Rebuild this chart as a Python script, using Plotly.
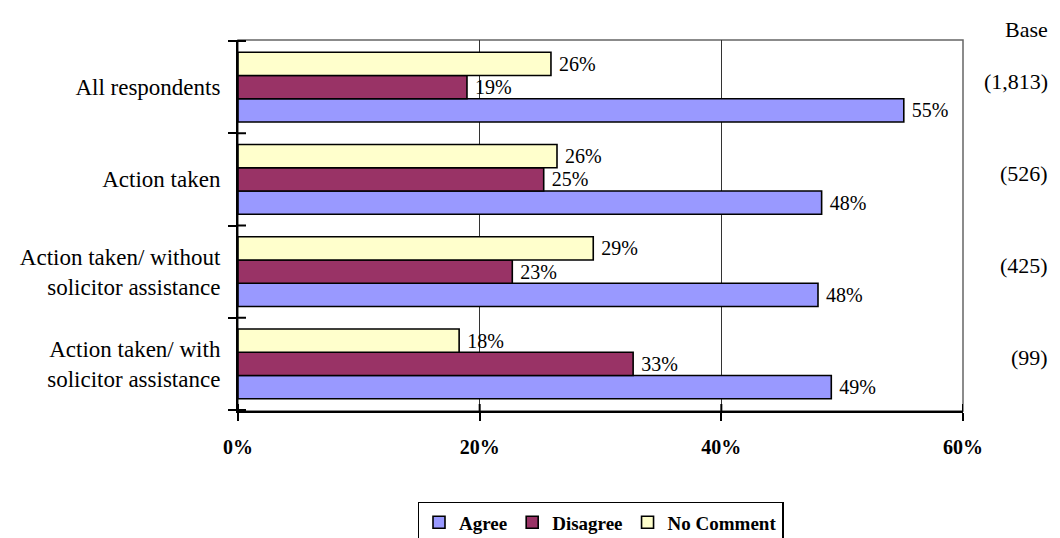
import plotly.graph_objects as go

categories = [
    "All respondents",
    "Action taken",
    "Action taken/ without<br>solicitor assistance",
    "Action taken/ with<br>solicitor assistance",
]
bases = ["(1,813)", "(526)", "(425)", "(99)"]

agree = [55.1, 48.3, 48.0, 49.1]
disagree = [18.95, 25.3, 22.7, 32.7]
no_comment = [25.9, 26.4, 29.4, 18.3]

series = [
    ("Agree", agree, "#9999FF"),
    ("Disagree", disagree, "#993366"),
    ("No Comment", no_comment, "#FFFFCC"),
]

x_ticks = [0, 20, 40, 60]

FONT = "Liberation Serif"

fig = go.Figure()
for name, vals, color in series:
    fig.add_trace(go.Bar(
        y=categories, x=vals, name=name, orientation="h",
        marker=dict(color=color, line=dict(color="black", width=1.6)),
        text=vals, texttemplate=" %{x:.0f}%", textposition="outside",
        textfont=dict(family=FONT, size=20, color="black"),
        constraintext="none", cliponaxis=False,
    ))

# page body has an 8px margin, so the figure is sized to fit inside the window
fig.update_layout(
    width=1044, height=530,
    margin=dict(l=230, r=89, t=32, b=127, autoexpand=False),
    barmode="group", bargap=0.245, bargroupgap=0,
    plot_bgcolor="white", paper_bgcolor="white",
    font=dict(family=FONT, size=18, color="black"),
    showlegend=True,
    legend=dict(
        orientation="h", x=0.5, xanchor="center",
        yref="container", y=0.068, yanchor="top",
        bordercolor="black", borderwidth=1.5, itemwidth=30,
        font=dict(family=FONT, size=19, weight="bold"),
    ),
)

fig.update_xaxes(
    range=[0, 60], tickvals=x_ticks, ticktext=[f"{t}%" for t in x_ticks],
    showgrid=True, gridcolor="#333333", gridwidth=1,
    showline=True, linecolor="black", linewidth=2,
    ticks="outside", ticklen=8, tickwidth=2, tickcolor="black",
    tickfont=dict(family=FONT, size=20, weight="bold"),
    ticklabelstandoff=9, zeroline=False, automargin=False,
)
fig.update_yaxes(
    type="category", categoryorder="array", categoryarray=categories[::-1],
    showline=True, linecolor="black", linewidth=2,
    ticks="outside", ticklen=8, tickwidth=2, tickcolor="black",
    tickson="boundaries", showgrid=False,
    tickfont=dict(family=FONT, size=23), ticklabelstandoff=11, automargin=False,
)

# plot area border (top/right)
fig.add_shape(type="rect", xref="x domain", yref="y domain", x0=0, x1=1, y0=0, y1=1,
              line=dict(color="#666666", width=1.5), layer="below")

# inner halves of the crossing tick marks
for t in x_ticks:
    fig.add_shape(type="line", xref="x", yref="y domain", ysizemode="pixel", yanchor=0,
                  x0=t, x1=t, y0=0, y1=7, line=dict(color="black", width=2))
for i in range(len(categories) + 1):
    fig.add_shape(type="line", xref="x domain", yref="y", xsizemode="pixel", xanchor=0,
                  x0=0, x1=8, y0=i - 0.5, y1=i - 0.5, line=dict(color="black", width=2))

fig.add_annotation(text="Base", xref="paper", yref="paper", x=1.12, y=1.027,
                   xanchor="right", yanchor="middle", showarrow=False,
                   font=dict(family=FONT, size=22))
for cat, b in zip(categories, bases):
    fig.add_annotation(text=b, xref="paper", yref="y", x=1.12, y=cat, yshift=6,
                       xanchor="right", yanchor="middle", showarrow=False,
                       font=dict(family=FONT, size=22))

fig.write_html("out.html")
